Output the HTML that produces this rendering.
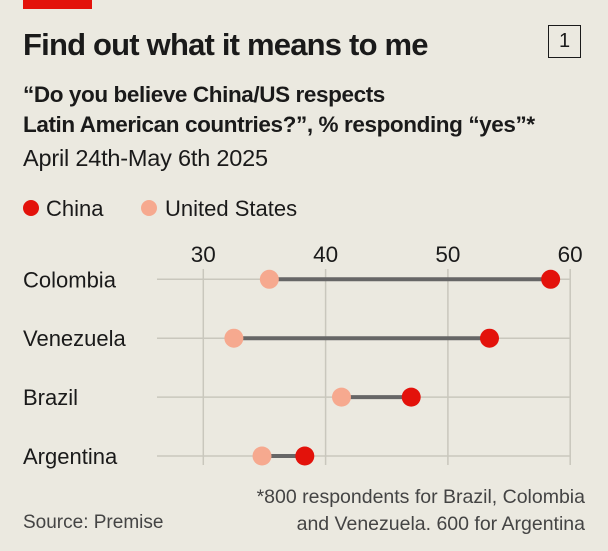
<!DOCTYPE html>
<html><head><meta charset="utf-8"><style>
body{margin:0;background:#ebe9e0;}
#c{position:relative;width:608px;height:551px;background:#ebe9e0;font-family:"Liberation Sans",sans-serif;color:#1a1a1a;overflow:hidden}
.t{position:absolute;white-space:nowrap}
</style></head><body>
<div id="c">
<div class="t" style="left:23px;top:0;width:69px;height:9px;background:#e3120b"></div>
<div class="t" style="left:23px;top:27px;font-size:31px;font-weight:bold;letter-spacing:-0.8px">Find out what it means to me</div>
<div class="t" style="left:548px;top:25px;width:33px;height:33px;border:1.5px solid #1a1a1a;box-sizing:border-box;text-align:center;font-size:20px;line-height:30px">1</div>
<div class="t" style="left:23px;top:80px;font-size:22.5px;font-weight:bold;line-height:30px;letter-spacing:-0.4px">“Do you believe China/US respects<br>Latin American countries?”, % responding “yes”*</div>
<div class="t" style="left:23px;top:145px;font-size:23.5px;letter-spacing:-0.2px">April 24th-May 6th 2025</div>
<svg class="t" style="left:0;top:0" width="608" height="551" id="svg"></svg>
<div class="t" style="left:23px;top:512px;font-size:19px;color:#444">Source: Premise</div>
<div class="t" style="right:23px;top:484px;font-size:19.5px;color:#444;text-align:right;line-height:27px">*800 respondents for Brazil, Colombia<br>and Venezuela. 600 for Argentina</div>
</div>
<script>
const countries=["Colombia","Venezuela","Brazil","Argentina"];
const china=[58.4,53.4,47,38.3];
const us=[35.4,32.5,41.3,34.8];
const ticks=[30,40,50,60];
const svg=document.getElementById('svg');
const NS="http://www.w3.org/2000/svg";
const x=v=>203.3+(v-30)*12.23;
const y=i=>279.3+i*58.9;
function mk(tag,attrs,txt){const e=document.createElementNS(NS,tag);for(const k in attrs)e.setAttribute(k,attrs[k]);if(txt!=null)e.textContent=txt;svg.appendChild(e);return e;}
let e=mk('circle',{cx:31,cy:208,r:8,fill:'#e3120b'});


e=mk('text',{x:46,y:216,'font-size':22,fill:'#1a1a1a','font-family':'Liberation Sans'},'China');


e=mk('circle',{cx:149,cy:208,r:8,fill:'#f6a98f'});


e=mk('text',{x:165,y:216,'font-size':22,fill:'#1a1a1a','font-family':'Liberation Sans'},'United States');


ticks.forEach(t=>{
 e=mk('line',{x1:x(t),x2:x(t),y1:269,y2:465,stroke:'#c9c7bd','stroke-width':1.5});
 
 
 e=mk('text',{x:x(t),y:262,'text-anchor':'middle','font-size':22.5,fill:'#1a1a1a','font-family':'Liberation Sans'},t);
 
 
});
countries.forEach((c,i)=>{
 e=mk('line',{x1:157,x2:x(60),y1:y(i),y2:y(i),stroke:'#c9c7bd','stroke-width':1.5});
 
 
 e=mk('text',{x:23,y:y(i)+8,'font-size':22,fill:'#1a1a1a','font-family':'Liberation Sans'},c);
 
 
 e=mk('line',{x1:x(us[i]),x2:x(china[i]),y1:y(i),y2:y(i),stroke:'#666','stroke-width':4});
 
 
 e=mk('circle',{cx:x(us[i]),cy:y(i),r:9.5,fill:'#f6a98f'});
 
 
 e=mk('circle',{cx:x(china[i]),cy:y(i),r:9.5,fill:'#e3120b'});
 
 
});
</script>
</body></html>
